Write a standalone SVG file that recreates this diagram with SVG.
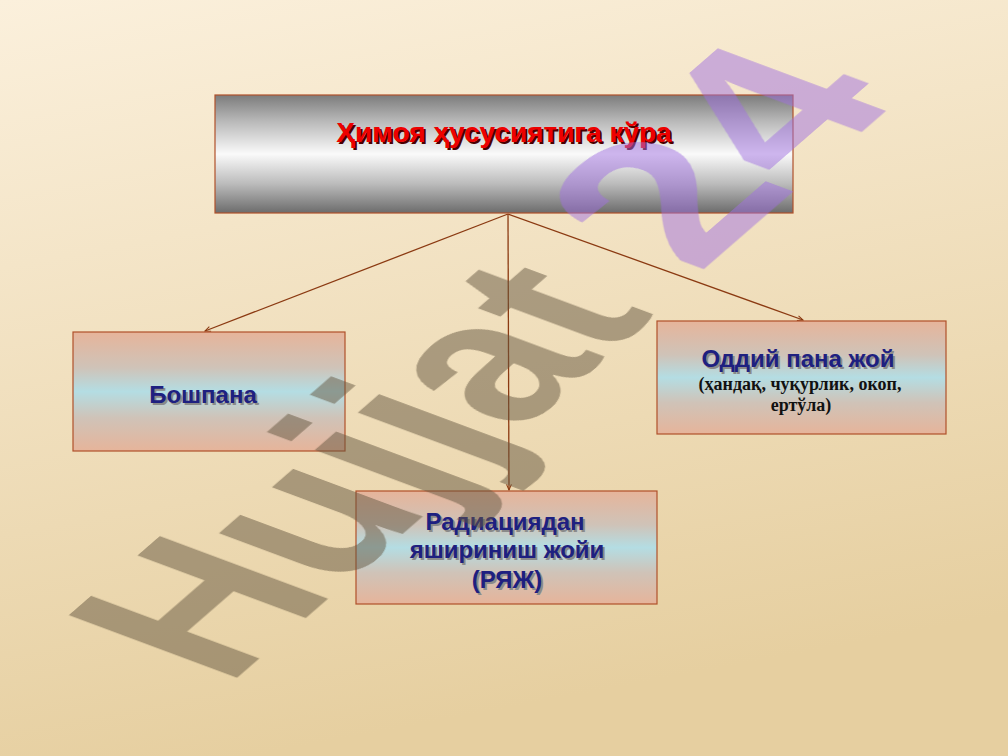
<svg xmlns="http://www.w3.org/2000/svg" width="1008" height="756" viewBox="0 0 1008 756">
<defs>
<linearGradient id="bg" x1="0" y1="0" x2="0.25" y2="1">
<stop offset="0" stop-color="#fbf0dc"/>
<stop offset="1" stop-color="#e6cfa0"/>
</linearGradient>
<linearGradient id="metal" x1="0" y1="0" x2="0" y2="1">
<stop offset="0" stop-color="#7c7c7c"/>
<stop offset="0.22" stop-color="#b8b8b8"/>
<stop offset="0.5" stop-color="#fafafa"/>
<stop offset="0.75" stop-color="#bcbcbc"/>
<stop offset="1" stop-color="#6c6c6c"/>
</linearGradient>
<linearGradient id="soft" x1="0" y1="0" x2="0" y2="1">
<stop offset="0" stop-color="#e6b49a"/>
<stop offset="0.3" stop-color="#cfc3b8"/>
<stop offset="0.5" stop-color="#b4dde3"/>
<stop offset="0.72" stop-color="#cfc3b8"/>
<stop offset="1" stop-color="#e6b49a"/>
</linearGradient>
<marker id="arr" viewBox="0 0 10 10" refX="9" refY="5" markerWidth="7" markerHeight="7" orient="auto" markerUnits="userSpaceOnUse">
<path d="M1,1.5 L9,5 L1,8.5" fill="none" stroke="#8b3a12" stroke-width="1.5"/>
</marker>
</defs>
<style>
.box{stroke:#b0502a;stroke-width:1.2}
.conn{stroke:#8b3a12;stroke-width:1.3;fill:none;marker-end:url(#arr)}
.title{font-family:"Liberation Sans",Arial,sans-serif;font-weight:bold;font-size:28px;text-anchor:middle}
.lbl{font-family:"Liberation Sans",Arial,sans-serif;font-weight:bold;font-size:24px;text-anchor:middle}
.sub{font-family:"Liberation Serif","Times New Roman",serif;font-weight:bold;font-size:18px;text-anchor:middle;fill:#111}
.shd{fill:#8a8a8a}
.blue{fill:#1e2080}
.wm{font-family:"Liberation Sans",Arial,sans-serif;font-weight:bold;font-size:100px}
</style>
<rect width="1008" height="756" fill="url(#bg)"/>
<g id="connectors">
<line class="conn" x1="508" y1="214" x2="205" y2="331"/>
<line class="conn" x1="508" y1="214" x2="509" y2="490"/>
<line class="conn" x1="508" y1="214" x2="803" y2="320"/>
</g>
<g id="node-top">
<rect class="box" x="215" y="95" width="578" height="118" fill="url(#metal)"/>
<text class="title" x="506" y="144" fill="#4a0000">Ҳимоя ҳусусиятига кўра</text>
<text class="title" x="504" y="142" fill="#ee0000">Ҳимоя ҳусусиятига кўра</text>
</g>
<g id="node-left">
<rect class="box" x="73" y="332" width="272" height="119" fill="url(#soft)"/>
<text class="lbl shd" x="205" y="405">Бошпана</text>
<text class="lbl blue" x="203" y="403">Бошпана</text>
</g>
<g id="node-right">
<rect class="box" x="657" y="321" width="289" height="113" fill="url(#soft)"/>
<text class="lbl shd" x="800" y="369">Оддий пана жой</text>
<text class="lbl blue" x="798" y="367">Оддий пана жой</text>
<text class="sub" x="800" y="390">(ҳандақ, чуқурлик, окоп,</text>
<text class="sub" x="801" y="411">ертўла)</text>
</g>
<g id="node-bottom">
<rect class="box" x="356" y="491" width="301" height="113" fill="url(#soft)"/>
<text class="lbl shd" x="507" y="532">Радиациядан</text>
<text class="lbl blue" x="505" y="530">Радиациядан</text>
<text class="lbl shd" x="509" y="560">яшириниш жойи</text>
<text class="lbl blue" x="507" y="558">яшириниш жойи</text>
<text class="lbl shd" x="509" y="590">(РЯЖ)</text>
<text class="lbl blue" x="507" y="588">(РЯЖ)</text>
</g>
<g id="watermark" opacity="0.5">
<text class="wm" fill="#645640" transform="matrix(1.548,-1.345,2.446,0.911,226.7,686.8)">Hujjat</text>
<text class="wm" fill="#a070e0" transform="matrix(1.858,-1.614,2.446,0.911,697.4,274.8)">24</text>
</g>
</svg>
